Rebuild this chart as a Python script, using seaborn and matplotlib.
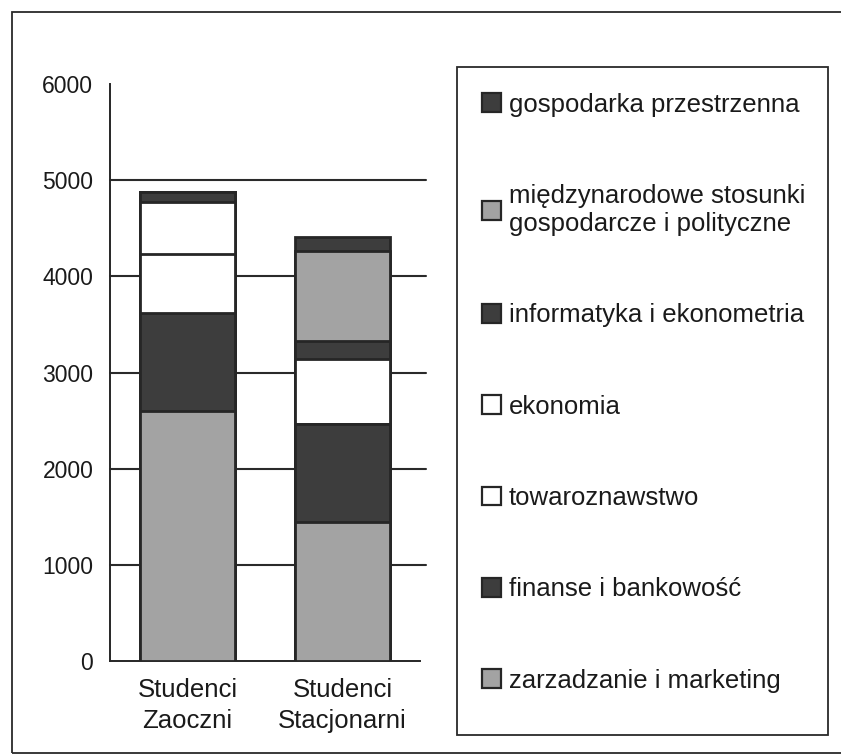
import matplotlib
matplotlib.use("Agg")
import matplotlib.pyplot as plt
import seaborn as sns
import pandas as pd
import numpy as np
from matplotlib.patches import Patch, Rectangle

# ---- data ----
categories = ["Studenci\nZaoczni", "Studenci\nStacjonarni"]
series_names = [
    "zarzadzanie i marketing",
    "finanse i bankowość",
    "towaroznawstwo",
    "ekonomia",
    "informatyka i ekonometria",
    "międzynarodowe stosunki\ngospodarcze i polityczne",
    "gospodarka przestrzenna",
]
zarzadzanie = [2600, 1450]
finanse = [1020, 1010]
towaroznawstwo = [610, 0]
ekonomia = [540, 680]
informatyka = [110, 190]
miedzynarodowe = [0, 930]
gospodarka = [0, 150]
y_ticks = [0, 1000, 2000, 3000, 4000, 5000, 6000]

series_values = [zarzadzanie, finanse, towaroznawstwo, ekonomia,
                 informatyka, miedzynarodowe, gospodarka]

GREY = "#a3a3a3"
DARK = "#3d3d3d"
WHITE = "#ffffff"
series_colors = [GREY, DARK, WHITE, WHITE, DARK, GREY, DARK]
EDGE = "#262626"
TXT = "#1a1a1a"

sns.set_theme(style="white")
plt.rcParams["font.family"] = ["Liberation Sans", "DejaVu Sans"]

fig = plt.figure(figsize=(8.41, 7.56), dpi=100)
fig.patch.set_facecolor("white")
W, H = 841, 756
ax = fig.add_axes([110 / W, 1 - 661 / H, (420 - 110) / W, (661 - 84) / H])

# cumulative stacks, drawn from the top segment down so lower ones overlay
vals = np.array(series_values, dtype=float)
cum = np.cumsum(vals, axis=0)
for i in range(len(series_names) - 1, -1, -1):
    df = pd.DataFrame({"cat": categories, "val": cum[i]})
    sns.barplot(data=df, x="cat", y="val", order=categories, color=series_colors[i],
                saturation=1, width=0.61, edgecolor=EDGE, linewidth=2.0,
                errorbar=None, ax=ax, zorder=3)

ax.set_xlim(-0.5, 1.5)
ax.set_ylim(0, 6000)
ax.set_yticks(y_ticks)
ax.set_yticklabels([str(t) for t in y_ticks], fontsize=16.5, color=TXT)
ax.set_xticks([0, 1])
ax.set_xticklabels(categories, fontsize=18.5, color=TXT, linespacing=1.4)
ax.set_xticks([0.5, 1.5], minor=True)
ax.tick_params(axis="x", which="major", length=0, pad=12)
ax.tick_params(axis="x", which="minor", length=8, width=1.3, color=EDGE, direction="out")
ax.tick_params(axis="y", which="major", length=8, width=1.3, color=EDGE, direction="inout", pad=8)
ax.set_xlabel("")
ax.set_ylabel("")

for t in [1000, 2000, 3000, 4000, 5000]:
    ax.axhline(t, color="#2a2a2a", lw=1.5, zorder=1, xmin=0, xmax=1.02, clip_on=False)

for s in ["top", "right"]:
    ax.spines[s].set_visible(False)
for s in ["left", "bottom"]:
    ax.spines[s].set_color(EDGE)
    ax.spines[s].set_linewidth(1.4)
ax.set_facecolor("white")

# legend (reverse order like the reference)
handles = [Patch(facecolor=series_colors[i], edgecolor=EDGE, linewidth=1.6,
                 label=series_names[i]) for i in range(len(series_names) - 1, -1, -1)]
leg = fig.legend(handles=handles, loc="upper left",
                 bbox_to_anchor=(469 / W, 1 - 80 / H), frameon=False,
                 fontsize=18.5, labelspacing=2.62, handlelength=0.75, handleheight=0.75,
                 handletextpad=0.3, borderpad=0)
for t in leg.get_texts():
    t.set_color(TXT)

# legend frame and outer chart frame
fig.add_artist(Rectangle((457 / W, 1 - 735 / H), (828 - 457) / W, (735 - 67) / H,
                         transform=fig.transFigure, fill=False, edgecolor="#2a2a2a", lw=1.3))
fig.add_artist(Rectangle((12 / W, 1 - 753 / H), (850 - 12) / W, (753 - 12) / H,
                         transform=fig.transFigure, fill=False, edgecolor="#2a2a2a", lw=1.3,
                         clip_on=False))

fig.savefig("out.png", dpi=100, facecolor="white")
